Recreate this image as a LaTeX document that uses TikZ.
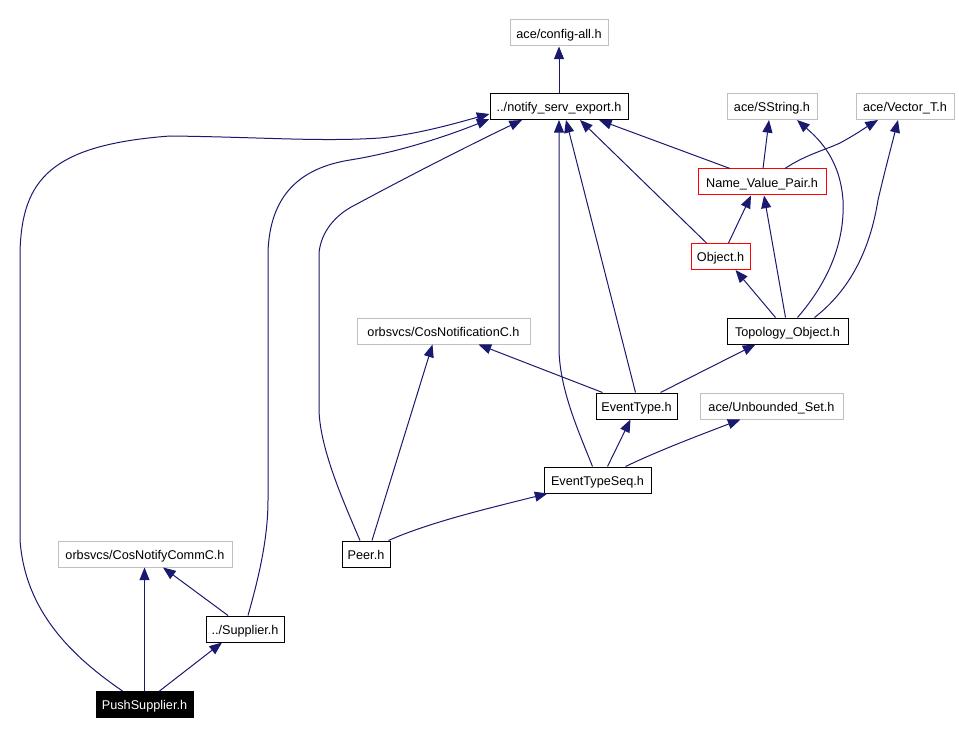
\documentclass[tikz,border=0pt]{standalone}
\usepackage{fontspec}
\setmainfont{Liberation Sans}
\usetikzlibrary{arrows.meta,calc}
\definecolor{edgecol}{HTML}{191970}
\definecolor{graybox}{HTML}{BFBFBF}
\begin{document}
\begin{tikzpicture}[x=0.75pt,y=-0.75pt,
  box/.style={draw=black, fill=white, inner xsep=2pt, inner ysep=1pt, minimum height=19.5pt,
    text height=8.5pt, text depth=0.5pt,
    font=\fontsize{9.5}{11}\selectfont, line width=0.75pt},
  ext/.style={box, draw=graybox},
  red/.style={box, draw=red},
  cur/.style={box, fill=black, text=white},
  bw/.style={minimum width={#1*0.75pt}},
  dep/.style={draw=edgecol, line width=0.75pt, -{Triangle[length=9.5pt,width=7.5pt]}}]
\useasboundingbox (0,0) rectangle (959,734);

\node[ext, bw=98]  (config)   at (559,33)    {ace/config-all.h};
\node[box, bw=138] (notify)   at (559,106.5) {../notify\_serv\_export.h};
\node[ext, bw=90]  (sstring)  at (772,106.5) {ace/SString.h};
\node[ext, bw=98]  (vector)   at (905,106.5) {ace/Vector\_T.h};
\node[red, bw=128] (nvp)      at (762,182)   {Name\_Value\_Pair.h};
\node[red, bw=59]  (obj)      at (720.5,256.5) {Object.h};
\node[box, bw=121] (topo)     at (787.5,331) {Topology\_Object.h};
\node[ext, bw=173] (cosnotif) at (443.5,331) {orbsvcs/CosNotificationC.h};
\node[box, bw=81]  (et)       at (636.5,406) {EventType.h};
\node[ext, bw=143] (unb)      at (771.5,406) {ace/Unbounded\_Set.h};
\node[box, bw=107] (ets)      at (597.5,480) {EventTypeSeq.h};
\node[box, bw=48]  (peer)     at (366,554)   {Peer.h};
\node[ext, bw=174] (comm)     at (145,554)   {orbsvcs/CosNotifyCommC.h};
\node[box, bw=78]  (sup)      at (245,629)   {../Supplier.h};
\node[cur, bw=97]  (ps)       at (144.5,704.5) {PushSupplier.h};

% edges
\draw[dep] (notify.north) -- (config.south);

\draw[dep] ($(ps.north)+(-22,0)$) .. controls (70,655) and (25,610) .. (20,540) -- (20,252)
  .. controls (22,180) and (50,145) .. (170,136) .. controls (260,137) and (320,142) .. (380,138)
  .. controls (420,134) and (460,122) .. ($(notify.south west)+(0,-6)$);
\draw[dep] (ps.north) -- (ps.north |- comm.south);
\draw[dep] ($(ps.north)+(15,0)$) -- ($(sup.south)+(-23,0)$);

\draw[dep] ($(sup.north)+(-17,0)$) -- ($(comm.south)+(18,0)$);
\draw[dep] ($(sup.north)+(3,0)$) .. controls (258,580) and (268,540) .. (268,500) -- (268,252)
  .. controls (270,195) and (300,168) .. (350,160) .. controls (400,152) and (450,135) .. ($(notify.south west)+(0,-1)$);

\draw[dep] ($(peer.north)+(-6,0)$) .. controls (345,505) and (320,450) .. (319,410) -- (319,253)
  .. controls (321,232) and (335,215) .. (355,205) .. controls (420,170) and (480,140) .. ($(notify.south)+(-37,0)$);
\draw[dep] ($(peer.north)+(6,0)$) -- ($(cosnotif.south)+(-11,0)$);
\draw[dep] ($(peer.north east)+(-2,0)$) .. controls (430,522) and (490,508) .. ($(ets.south west)+(4,0)$);

\draw[dep] ($(ets.north)+(10,0)$) -- ($(et.south)+(-6,0)$);
\draw[dep] ($(ets.north)+(28,0)$) .. controls (660,450) and (700,435) .. ($(unb.south)+(-31,0)$);
\draw[dep] ($(ets.north)+(-5,0)$) .. controls (578,430) and (560,390) .. (559,350) -- (notify.south);

\draw[dep] ($(et.north)+(-1,0)$) -- ($(notify.south)+(7,0)$);
\draw[dep] ($(et.north)+(-34,0)$) -- ($(cosnotif.south)+(35,0)$);
\draw[dep] ($(et.north)+(24,0)$) -- ($(topo.south)+(-32,0)$);

\draw[dep] ($(topo.north)+(-12,0)$) -- ($(obj.south)+(15,0)$);
\draw[dep] ($(topo.north)+(-2,0)$) -- ($(nvp.south)+(2,0)$);
\draw[dep] ($(topo.north)+(10,0)$) .. controls (830,280) and (845,240) .. (843,200)
  .. controls (840,160) and (820,140) .. ($(sstring.south)+(25,0)$);
\draw[dep] ($(topo.north)+(27,0)$) .. controls (850,290) and (870,250) .. (878,200)
  .. controls (885,170) and (893,140) .. ($(vector.south)+(-7,0)$);

\draw[dep] ($(obj.north)+(8,0)$) -- ($(nvp.south)+(-11,0)$);
\draw[dep] ($(obj.north)+(-14,0)$) -- ($(notify.south)+(21,0)$);

\draw[dep] ($(nvp.north)+(-32,0)$) -- ($(notify.south)+(40,0)$);
\draw[dep] ($(nvp.north)+(1,0)$) -- ($(sstring.south)+(-3,0)$);
\draw[dep] ($(nvp.north)+(23,0)$) .. controls (805,155) and (825,150) .. (840,143)
  .. controls (855,135) and (868,126) .. ($(vector.south)+(-27,0)$);
\end{tikzpicture}
\end{document}
